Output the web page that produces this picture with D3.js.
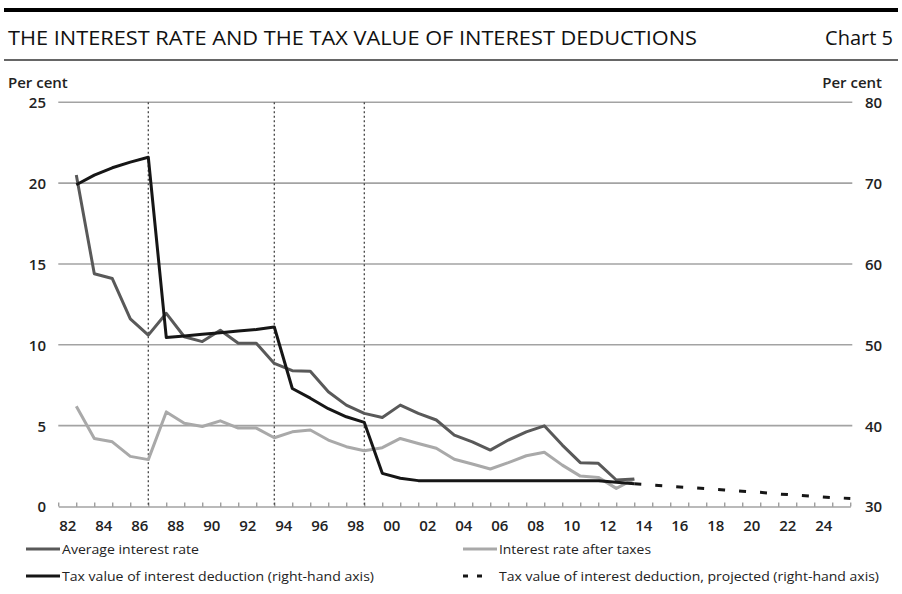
<!DOCTYPE html>
<html><head><meta charset="utf-8">
<script src="https://cdn.jsdelivr.net/npm/d3@7"></script>
<style>body{margin:0;background:#fff} svg{display:block}</style>
</head><body><svg id="c" width="902" height="594"></svg>
<script>
const years = [1982,1983,1984,1985,1986,1987,1988,1989,1990,1991,1992,1993,1994,1995,1996,1997,1998,1999,2000,2001,2002,2003,2004,2005,2006,2007,2008,2009,2010,2011,2012,2013];
const averageRate = [20.5,14.4,14.1,11.6,10.6,11.95,10.5,10.2,10.9,10.1,10.1,8.85,8.4,8.37,7.1,6.27,5.76,5.51,6.27,5.76,5.35,4.42,4.0,3.49,4.11,4.62,4.99,3.8,2.71,2.67,1.64,1.7];
const afterTaxRate = [6.2,4.2,4.0,3.1,2.9,5.85,5.15,4.95,5.3,4.85,4.85,4.25,4.62,4.73,4.11,3.7,3.45,3.64,4.21,3.9,3.6,2.92,2.63,2.32,2.71,3.14,3.35,2.56,1.88,1.8,1.12,1.7];
const taxValue = [69.8,71.0,71.9,72.6,73.2,50.9,51.1,51.3,51.5,51.7,51.9,52.2,44.6,43.4,42.1,41.1,40.4,34.1,33.5,33.2,33.2,33.2,33.2,33.2,33.2,33.2,33.2,33.2,33.2,33.2,33.0,32.8];
const projYears = [2013,2014,2015,2016,2017,2018,2019,2020,2021,2022,2023,2024,2025];
const taxValueProjected = [32.8,32.65,32.5,32.35,32.2,32.05,31.9,31.75,31.55,31.4,31.25,31.1,31.0];
const leftTicks = [0,5,10,15,20,25];
const rightTicks = [30,40,50,60,70,80];
const xLabelYears = [1982,1984,1986,1988,1990,1992,1994,1996,1998,2000,2002,2004,2006,2008,2010,2012,2014,2016,2018,2020,2022,2024];
const xTickYears = [1982,1983,1984,1985,1986,1987,1988,1989,1990,1991,1992,1993,1994,1995,1996,1997,1998,1999,2000,2001,2002,2003,2004,2005,2006,2007,2008,2009,2010,2011,2012,2013,2014,2015,2016,2017,2018,2019,2020,2021,2022,2023,2024,2025,2026];
const regimeBreaks = [1987, 1994, 1999];

const svg = d3.select("#c");
const FONT = "'Open Sans', 'DejaVu Sans', sans-serif";
const x = d3.scaleLinear().domain([1982, 2026]).range([58.3, 850.3]);
const yL = d3.scaleLinear().domain([0, 25]).range([506.5, 102.3]);
const yR = d3.scaleLinear().domain([30, 80]).range([506.5, 102.3]);
const gridColor = "#a3a3a3";

// Header rules and title
svg.append("line").attr("x1",4).attr("x2",898).attr("y1",10).attr("y2",10).attr("stroke","#000").attr("stroke-width",4);
svg.append("line").attr("x1",4).attr("x2",898).attr("y1",60).attr("y2",60).attr("stroke","#333").attr("stroke-width",1.5);
svg.append("text").attr("x",8).attr("y",45).attr("font-family",FONT).attr("font-size",20)
  .attr("textLength",689).attr("lengthAdjust","spacingAndGlyphs").attr("fill","#111")
  .text("THE INTEREST RATE AND THE TAX VALUE OF INTEREST DEDUCTIONS");
svg.append("text").attr("x",893).attr("y",45).attr("text-anchor","end").attr("font-family",FONT).attr("font-size",20).attr("fill","#111").text("Chart 5");

// Gridlines
svg.append("g").selectAll("line").data(leftTicks.filter(d=>d>0)).join("line")
  .attr("x1", x(1982)).attr("x2", x(2026)+2)
  .attr("y1", d=>yL(d)).attr("y2", d=>yL(d))
  .attr("stroke", gridColor).attr("stroke-width", 1.6);

// x axis ticks (year boundaries)
const xAxisTicks = d3.axisBottom(x).tickValues(xTickYears).tickSizeInner(-4).tickSizeOuter(0).tickFormat("");
const gx = svg.append("g").attr("transform", `translate(0,${yL(0)})`).call(xAxisTicks);
gx.select(".domain").attr("stroke", gridColor).attr("stroke-width",1.6);
gx.selectAll(".tick line").attr("stroke", "#777").attr("stroke-width",1);

// x labels centered in year
const xAxisLabels = d3.axisBottom(x).tickValues(xLabelYears.map(d=>d+0.5)).tickSize(0).tickPadding(14)
  .tickFormat(d => String(Math.floor(d)).slice(2));
const gxl = svg.append("g").attr("transform", `translate(0,${yL(0)})`).call(xAxisLabels);
gxl.select(".domain").remove();
gxl.selectAll("text").attr("font-family",FONT).attr("font-size",15).attr("font-weight",600).attr("fill","#222");

// Left axis labels
const gyl = svg.append("g").attr("transform","translate(46,0)")
  .call(d3.axisLeft(yL).tickValues(leftTicks).tickSize(0).tickPadding(0));
gyl.select(".domain").remove();
gyl.selectAll("text").attr("font-family",FONT).attr("font-size",15).attr("font-weight",600).attr("fill","#222").attr("dy","0.36em");
// Right axis labels
const gyr = svg.append("g").attr("transform","translate(865,0)")
  .call(d3.axisRight(yR).tickValues(rightTicks).tickSize(0).tickPadding(0));
gyr.select(".domain").remove();
gyr.selectAll("text").attr("font-family",FONT).attr("font-size",15).attr("font-weight",600).attr("fill","#222").attr("dy","0.36em");

svg.append("text").attr("x",8).attr("y",88).attr("font-family",FONT).attr("font-size",15).attr("font-weight",600).attr("fill","#222").text("Per cent");
svg.append("text").attr("x",882).attr("y",88).attr("text-anchor","end").attr("font-family",FONT).attr("font-size",15).attr("font-weight",600).attr("fill","#222").text("Per cent");

// Dotted regime lines
svg.append("g").selectAll("line").data(regimeBreaks).join("line")
  .attr("x1", d=>x(d)).attr("x2", d=>x(d)).attr("y1", yL(25)).attr("y2", yL(0))
  .attr("stroke","#444").attr("stroke-width",1.3).attr("stroke-dasharray","2,2.5");

// Lines
const lineL = d3.line().x(d=>x(d[0]+1)).y(d=>yL(d[1]));
const lineR = d3.line().x(d=>x(d[0]+1)).y(d=>yR(d[1]));
svg.append("path").datum(years.map((y,i)=>[y, afterTaxRate[i]])).attr("d", lineL)
  .attr("fill","none").attr("stroke","#a9a9a9").attr("stroke-width",3).attr("stroke-linejoin","round");
svg.append("path").datum(years.map((y,i)=>[y, averageRate[i]])).attr("d", lineL)
  .attr("fill","none").attr("stroke","#595959").attr("stroke-width",3).attr("stroke-linejoin","round");
svg.append("path").datum(years.map((y,i)=>[y, taxValue[i]])).attr("d", lineR)
  .attr("fill","none").attr("stroke","#161616").attr("stroke-width",3).attr("stroke-linejoin","round");
svg.append("path").datum(projYears.map((y,i)=>[y, taxValueProjected[i]])).attr("d", lineR)
  .attr("fill","none").attr("stroke","#161616").attr("stroke-width",3).attr("stroke-dasharray","7,14");

// Legend
const lg = svg.append("g");
const legendItems = [
  {label:"Average interest rate", color:"#595959", dash:null, x:26, y:549, w:137},
  {label:"Interest rate after taxes", color:"#a9a9a9", dash:null, x:463, y:549, w:152},
  {label:"Tax value of interest deduction (right-hand axis)", color:"#161616", dash:null, x:26, y:576, w:312},
  {label:"Tax value of interest deduction, projected (right-hand axis)", color:"#161616", dash:"5,9", x:463, y:576, w:380}
];
legendItems.forEach(it => {
  lg.append("line").attr("x1",it.x).attr("x2",it.x+ (it.dash?24:34)).attr("y1",it.y).attr("y2",it.y)
    .attr("stroke",it.color).attr("stroke-width",3).attr("stroke-dasharray",it.dash);
  lg.append("text").attr("x",it.x+36).attr("y",it.y+4.5).attr("font-family",FONT).attr("font-size",13)
    .attr("textLength",it.w).attr("lengthAdjust","spacingAndGlyphs").attr("fill","#222").text(it.label);
});
</script></body></html>
